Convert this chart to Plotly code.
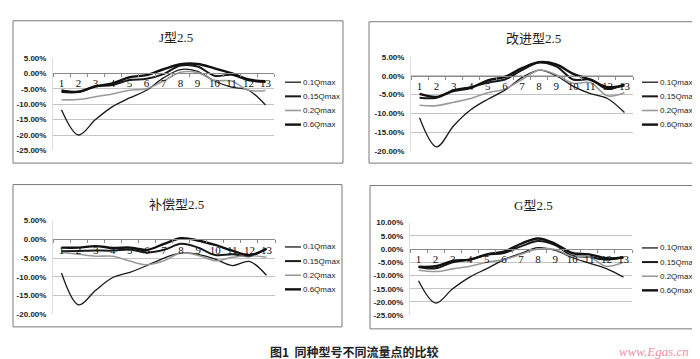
import plotly.graph_objects as go

# ---------------- data ----------------
categories = [str(i) for i in range(1, 14)]
series_names = ["0.1Qmax", "0.15Qmax", "0.2Qmax", "0.6Qmax"]

# J型2.5
j_01 = [-11.8, -20.0, -15.0, -10.8, -8.0, -5.5, -1.5, 1.2, 0.6, -2.5, -4.5, -5.5, -10.3]
j_015 = [-5.5, -6.0, -4.3, -3.8, -2.2, -1.8, -0.3, 2.5, 2.2, -0.8, -0.5, -2.3, -2.8]
j_02 = [-8.6, -8.5, -7.6, -6.7, -5.5, -5.0, -2.5, 0.3, 0.2, -2.3, -2.5, -5.5, -5.6]
j_06 = [-6.0, -6.0, -4.2, -3.3, -1.3, -0.6, 1.3, 2.9, 3.0, 1.6, 0.0, -2.0, -2.6]

# 改进型2.5
gj_01 = [-11.1, -18.8, -13.2, -9.0, -6.2, -3.8, -0.5, 1.5, 0.0, -2.8, -4.7, -6.0, -9.7]
gj_015 = [-5.8, -5.8, -3.8, -3.0, -1.8, -1.0, 1.5, 3.5, 2.5, -1.0, -1.0, -3.5, -2.2]
gj_02 = [-7.8, -7.9, -7.0, -6.0, -4.5, -3.5, -1.0, 1.5, 0.3, -2.0, -1.8, -5.3, -4.5]
gj_06 = [-4.8, -5.6, -4.0, -3.2, -1.2, -0.3, 2.0, 3.6, 3.0, 0.5, -1.0, -3.0, -2.5]

# 补偿型2.5
bc_01 = [-9.0, -17.5, -13.6, -10.2, -8.8, -7.0, -5.0, -3.6, -4.0, -5.3, -7.0, -5.9, -9.6]
bc_015 = [-3.2, -3.1, -3.0, -3.0, -2.7, -3.5, -2.8, -1.2, -2.2, -4.2, -4.0, -4.5, -2.5]
bc_02 = [-3.5, -4.0, -4.5, -4.5, -5.8, -6.8, -5.7, -3.6, -4.3, -5.7, -4.8, -4.3, -4.8]
bc_06 = [-2.2, -2.2, -1.8, -2.3, -2.2, -2.8, -1.2, 0.3, -0.3, -1.5, -3.0, -4.2, -2.5]

# G型2.5
g_01 = [-12.0, -20.4, -15.0, -10.6, -7.4, -4.0, -1.6, 0.5, -0.5, -3.2, -5.3, -7.4, -10.6]
g_015 = [-6.8, -7.3, -5.0, -4.0, -2.2, -1.5, 1.0, 3.0, 1.5, -2.5, -3.0, -4.0, -3.0]
g_02 = [-8.0, -8.5, -7.5, -6.5, -5.0, -4.0, -2.0, 0.0, -0.2, -2.8, -3.0, -6.5, -5.0]
g_06 = [-6.7, -6.5, -4.5, -4.0, -2.0, -1.0, 2.0, 4.0, 2.0, -1.5, -2.0, -3.5, -3.2]

panel_titles = ["J型2.5", "改进型2.5", "补偿型2.5", "G型2.5"]
panel_series = [
    [j_01, j_015, j_02, j_06],
    [gj_01, gj_015, gj_02, gj_06],
    [bc_01, bc_015, bc_02, bc_06],
    [g_01, g_015, g_02, g_06],
]
y_ticks_1 = [5, 0, -5, -10, -15, -20, -25]
y_ticks_2 = [5, 0, -5, -10, -15, -20]
y_ticks_3 = [5, 0, -5, -10, -15, -20]
y_ticks_4 = [10, 5, 0, -5, -10, -15, -20, -25]
panel_yticks = [y_ticks_1, y_ticks_2, y_ticks_3, y_ticks_4]
caption = "图1  同种型号不同流量点的比较"
watermark = "www.Egas.cn"

# ---------------- layout geometry (pixels) ----------------
W, H = 700, 359
geo = [
    dict(x0=45, x1=266, yt=47, yb=142, box=(5, 9, 335, 155), tx=168, ty=26, lx=277, ly=72),
    dict(x0=403, x1=625, yt=46, yb=143, box=(361, 10, 693, 155), tx=525, ty=27, lx=634, ly=72),
    dict(x0=45, x1=267, yt=214, yb=310, box=(5, 177, 334, 323), tx=168, ty=197, lx=277, ly=241),
    dict(x0=402, x1=624, yt=216, yb=311, box=(362, 178, 693, 325), tx=525, ty=198, lx=634, ly=242),
]
legend_step = 14.5

def fx(px):
    return px / W

def fy(py):
    return 1 - py / H

styles = [
    dict(color="#1a1a1a", width=1.3),
    dict(color="#1a1a1a", width=2.0),
    dict(color="#9a9a9a", width=1.6),
    dict(color="#111111", width=2.4),
]

fig = go.Figure()
layout = dict(
    width=W, height=H,
    margin=dict(l=0, r=0, t=0, b=0),
    paper_bgcolor="white", plot_bgcolor="white",
    font=dict(family="Liberation Sans, Arial, Noto Sans CJK SC", size=8, color="#333"),
    shapes=[], annotations=[], showlegend=False,
)

for i in range(4):
    g = geo[i]
    k = "" if i == 0 else str(i + 1)
    ticks = panel_yticks[i]
    ymax, ymin = max(ticks), min(ticks)
    for s in range(4):
        fig.add_trace(go.Scatter(
            x=categories, y=panel_series[i][s], mode="lines",
            line=dict(shape="spline", smoothing=1.0, **styles[s]),
            name=series_names[s], xaxis="x" + k, yaxis="y" + k,
        ))
        # legend key (line + label)
        ly = g["ly"] + s * legend_step
        layout["shapes"].append(dict(
            type="line", xref="paper", yref="paper",
            x0=fx(g["lx"]), x1=fx(g["lx"] + 16), y0=fy(ly), y1=fy(ly),
            line=dict(color=styles[s]["color"], width=styles[s]["width"]),
        ))
        layout["annotations"].append(dict(
            text=series_names[s], x=fx(g["lx"] + 16), y=fy(ly), xref="paper", yref="paper",
            xanchor="left", yanchor="middle", showarrow=False,
            font=dict(size=8, color="#222"),
        ))
    ydom = [fy(g["yb"]), fy(g["yt"])]
    xdom = [fx(g["x0"]), fx(g["x1"])]
    zero_pos = ydom[0] + (0 - ymin) / (ymax - ymin) * (ydom[1] - ydom[0])
    layout["xaxis" + k] = dict(
        domain=xdom, anchor="free", position=zero_pos,
        type="category", categoryorder="array", categoryarray=categories,
        range=[-0.5, 12.5], showgrid=False, zeroline=False,
        showline=True, linecolor="#8a8a8a", linewidth=1,
        ticks="outside", ticklen=3, tickcolor="#8a8a8a", tickson="boundaries",
        tickangle=0,
        tickfont=dict(family="Liberation Serif, DejaVu Serif", size=11, color="#111"),
        fixedrange=True,
    )
    layout["yaxis" + k] = dict(
        domain=ydom, anchor="x" + k, range=[ymin, ymax],
        tickvals=ticks, ticktext=[f"{v:.2f}%" for v in ticks],
        showgrid=True, gridcolor="#c4c4c4", gridwidth=1, zeroline=False,
        showline=True, linecolor="#dddddd", linewidth=1,
        ticks="", tickfont=dict(size=8, color="#222", weight="bold"), ticklabelstandoff=4,
        fixedrange=True,
    )
    bx0, by0, bx1, by1 = g["box"]
    layout["shapes"].append(dict(
        type="rect", xref="paper", yref="paper",
        x0=fx(bx0), x1=fx(bx1), y0=fy(by1), y1=fy(by0),
        line=dict(color="#7a7a7a", width=1), fillcolor="rgba(0,0,0,0)",
    ))
    layout["annotations"].append(dict(
        text=panel_titles[i], x=fx(g["tx"]), y=fy(g["ty"]), xref="paper", yref="paper",
        xanchor="center", yanchor="middle", showarrow=False,
        font=dict(family="Liberation Serif, Noto Sans CJK SC", size=13, color="#222"),
    ))

layout["annotations"].append(dict(
    text="<b>" + caption + "</b>", x=fx(346), y=fy(348), xref="paper", yref="paper",
    xanchor="center", yanchor="middle", showarrow=False,
    font=dict(family="Noto Sans CJK SC", size=12, color="#222"),
))
layout["annotations"].append(dict(
    text="<i>" + watermark + "</i>", x=fx(646), y=fy(348), xref="paper", yref="paper",
    xanchor="center", yanchor="middle", showarrow=False,
    font=dict(family="Liberation Serif, DejaVu Serif", size=13, color="#ec8fa6"),
))

fig.update_layout(**layout)
fig.write_html("out.html")
